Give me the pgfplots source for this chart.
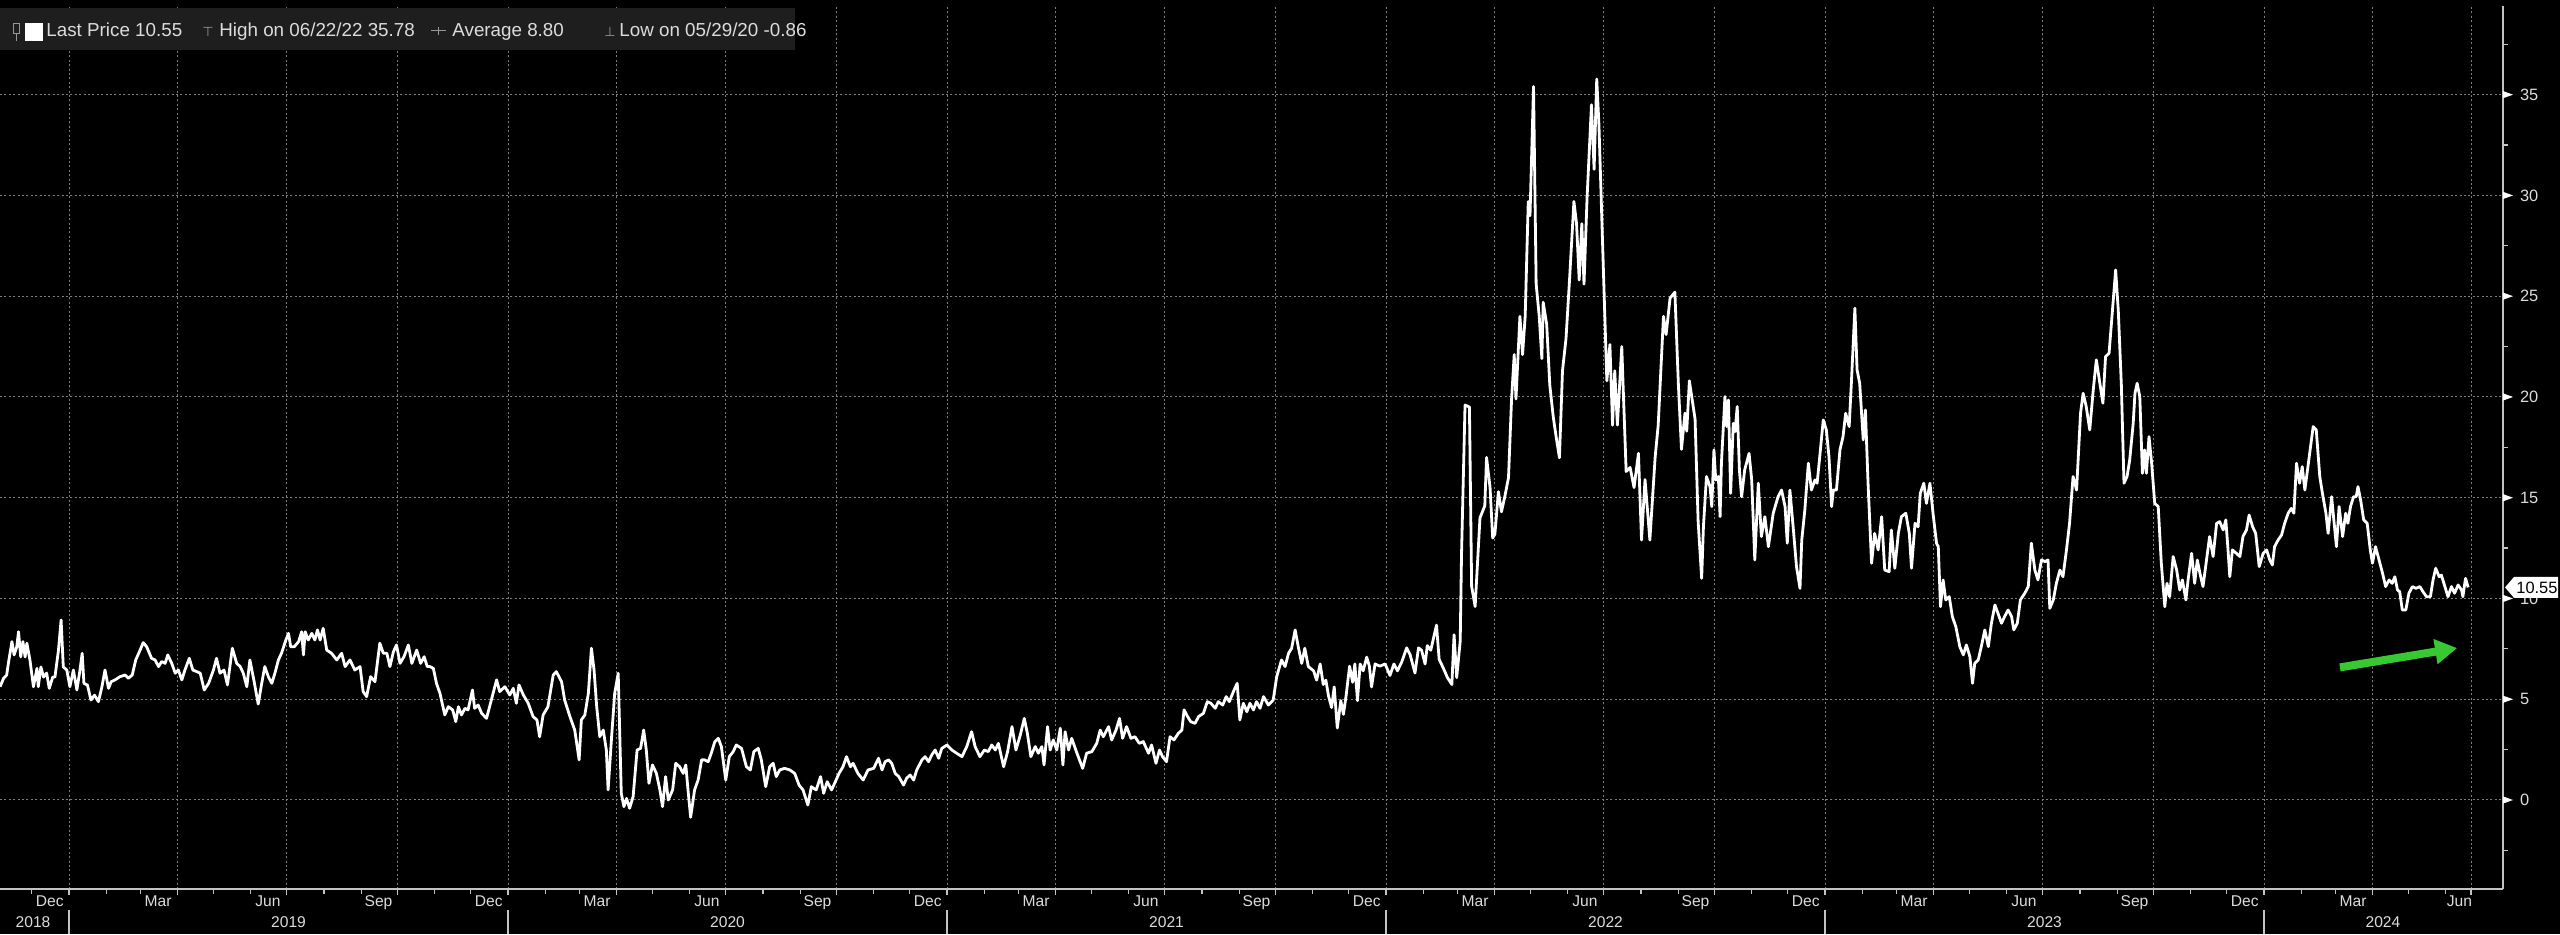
\documentclass[border=0pt]{standalone}
\usepackage{fontspec}
\setmainfont{Liberation Sans}
\newfontfamily\symfont{DejaVu Sans}
\usepackage{pgfplots}
\pgfplotsset{compat=1.18}
\usetikzlibrary{arrows.meta}
\definecolor{gridgrey}{RGB}{125,125,125}
\definecolor{axgrey}{RGB}{195,195,195}
\definecolor{lblgrey}{RGB}{220,220,220}
\definecolor{leggrey}{RGB}{30,30,30}
\definecolor{icongrey}{RGB}{150,150,150}
\definecolor{arrowgreen}{RGB}{55,200,50}
\pgfdeclareplotmark{rtri}{%
  \pgfpathmoveto{\pgfpoint{0pt}{1.8pt}}%
  \pgfpathlineto{\pgfpoint{5pt}{0pt}}%
  \pgfpathlineto{\pgfpoint{0pt}{-1.8pt}}%
  \pgfpathclose\pgfusepathqfill}
\begin{document}
\begin{tikzpicture}
\fill[black] (0pt,0pt) rectangle (1280pt,467pt);
\begin{axis}[
  at={(0pt,22.5pt)}, anchor=south west,
  scale only axis, width=1251.5pt, height=441.5pt,
  xmin=2018.8428, xmax=2024.5444, ymin=-4.417, ymax=39.40,
  axis x line*=bottom, axis y line*=right,
  axis line style={axgrey, line width=0.8pt},
  clip=false,
  tick align=outside,
  major tick length=3pt, minor tick length=2.5pt,
  tick style={axgrey, line width=0.6pt},
  /pgf/number format/assume math mode=true,
  ytick={0,5,...,35},
  minor ytick={-2.5,2.5,...,37.5},
  yticklabel style={font=\fontsize{8.2}{9}\selectfont, text=lblgrey, xshift=2pt},
  xtick={2019,2019.247,2019.496,2019.748,2020,2020.247,2020.496,2020.748,2021,2021.247,2021.496,2021.748,2022,2022.247,2022.496,2022.748,2023,2023.247,2023.496,2023.748,2024,2024.247,2024.4715},
  xticklabels={},
  minor xtick={2018.915,2019.085,2019.162,2019.329,2019.414,2019.581,2019.666,2019.833,2019.915,2020.085,2020.162,2020.329,2020.414,2020.581,2020.666,2020.833,2020.915,2021.085,2021.162,2021.329,2021.414,2021.581,2021.666,2021.833,2021.915,2022.085,2022.162,2022.329,2022.414,2022.581,2022.666,2022.833,2022.915,2023.085,2023.162,2023.329,2023.414,2023.581,2023.666,2023.833,2023.915,2024.085,2024.162,2024.329,2024.414},
  extra x ticks={2018.956,2019.203,2019.453,2019.705,2019.956,2020.203,2020.453,2020.705,2020.956,2021.203,2021.453,2021.705,2021.956,2022.203,2022.453,2022.705,2022.956,2023.203,2023.453,2023.705,2023.956,2024.203,2024.445},
  extra x tick labels={Dec,Mar,Jun,Sep,Dec,Mar,Jun,Sep,Dec,Mar,Jun,Sep,Dec,Mar,Jun,Sep,Dec,Mar,Jun,Sep,Dec,Mar,Jun},
  extra x tick style={grid=none, major tick length=0pt},
  xticklabel style={font=\fontsize{7.8}{8}\selectfont, text=lblgrey},
  grid=major,
  major grid style={gridgrey, dash pattern=on 1pt off 1.2pt, line width=0.5pt},
]
\addplot[white, line width=1.4pt, mark=none, line join=round] coordinates {
(2018.843,5.62)(2018.851,6.04)(2018.858,6.20)(2018.862,6.80)(2018.870,7.86)(2018.875,7.20)(2018.881,7.60)(2018.885,8.35)(2018.890,7.10)(2018.895,7.86)(2018.900,7.10)(2018.904,7.78)(2018.911,6.95)(2018.919,5.62)(2018.927,6.53)(2018.930,5.62)(2018.936,6.60)(2018.942,6.10)(2018.949,6.30)(2018.955,5.54)(2018.963,6.10)(2018.968,6.10)(2018.976,7.44)(2018.982,8.93)(2018.987,6.60)(2018.995,6.45)
(2019.002,5.62)(2019.010,6.45)(2019.018,5.46)(2019.025,6.45)(2019.030,7.28)(2019.034,5.79)(2019.042,5.70)(2019.050,4.96)(2019.058,5.20)(2019.067,4.88)(2019.075,5.62)(2019.082,6.45)(2019.090,5.54)(2019.096,5.87)(2019.105,5.96)(2019.116,6.12)(2019.128,6.20)(2019.135,6.04)(2019.144,6.20)(2019.152,6.95)(2019.162,7.44)(2019.169,7.81)(2019.177,7.60)(2019.188,7.03)(2019.196,6.95)(2019.204,6.62)(2019.211,6.87)(2019.219,6.78)(2019.225,7.20)(2019.234,6.78)(2019.242,6.29)(2019.249,6.45)(2019.257,5.96)(2019.264,6.45)(2019.274,7.03)(2019.282,6.45)(2019.291,6.37)(2019.299,6.29)(2019.308,5.46)(2019.318,5.79)(2019.329,6.45)(2019.336,7.03)(2019.344,6.29)(2019.353,6.45)(2019.361,5.71)(2019.372,7.53)(2019.382,6.78)(2019.390,6.62)(2019.397,6.29)(2019.405,5.62)(2019.412,6.95)(2019.421,5.96)(2019.431,4.76)(2019.439,5.79)(2019.446,6.62)(2019.454,6.12)(2019.462,5.79)(2019.469,6.29)(2019.477,6.95)(2019.484,7.28)(2019.494,7.94)(2019.500,8.27)(2019.505,7.60)(2019.513,7.60)(2019.523,7.86)(2019.530,8.35)(2019.534,7.20)(2019.538,8.35)(2019.545,7.94)(2019.553,8.27)(2019.560,7.94)(2019.566,8.44)(2019.572,7.94)(2019.579,8.52)(2019.587,7.44)(2019.598,7.28)(2019.610,6.95)(2019.621,7.28)(2019.629,6.62)(2019.640,6.95)(2019.651,6.45)(2019.663,6.62)(2019.670,5.38)(2019.678,5.13)(2019.687,6.12)(2019.697,5.87)(2019.708,7.78)(2019.716,7.28)(2019.724,7.28)(2019.731,6.62)(2019.739,7.36)(2019.746,7.69)(2019.754,6.78)(2019.763,7.11)(2019.773,7.69)(2019.781,6.78)(2019.792,7.44)(2019.801,6.78)(2019.809,7.11)(2019.816,6.62)
(2019.822,6.62)(2019.830,6.53)(2019.837,5.79)(2019.845,5.29)(2019.856,4.22)(2019.864,4.63)(2019.874,4.47)(2019.881,3.89)(2019.887,4.63)(2019.894,4.22)(2019.902,4.55)(2019.909,4.47)(2019.919,5.46)(2019.924,4.55)(2019.932,4.71)(2019.940,4.30)(2019.951,4.05)(2019.962,4.96)(2019.974,5.96)(2019.981,5.38)(2019.993,5.62)
(2020.004,5.21)(2020.012,5.54)(2020.019,4.80)(2020.025,5.71)(2020.035,5.21)(2020.046,4.80)(2020.057,4.14)(2020.066,3.97)(2020.072,3.14)(2020.080,4.22)(2020.091,4.63)(2020.103,6.20)(2020.110,6.37)(2020.122,5.87)(2020.129,4.96)(2020.141,4.14)(2020.152,3.47)(2020.162,1.99)(2020.167,3.97)(2020.175,4.22)(2020.183,5.29)(2020.190,7.53)(2020.196,6.45)(2020.202,4.63)(2020.209,3.14)(2020.217,3.47)(2020.224,2.48)(2020.228,0.50)(2020.236,3.14)(2020.243,5.29)(2020.251,6.29)(2020.258,0.33)(2020.264,-0.33)(2020.270,0.08)(2020.277,-0.41)(2020.285,0.17)(2020.294,2.48)(2020.302,2.56)(2020.309,3.47)(2020.315,2.48)(2020.321,0.83)(2020.329,1.74)(2020.338,1.32)(2020.346,0.50)(2020.352,-0.33)(2020.359,1.16)(2020.365,0.00)(2020.375,0.50)(2020.382,1.82)(2020.391,1.65)(2020.399,1.32)(2020.405,1.74)(2020.410,0.50)(2020.416,-0.86)(2020.425,0.50)(2020.433,0.99)(2020.441,1.99)(2020.448,1.99)(2020.456,1.90)(2020.463,2.32)(2020.471,2.89)(2020.479,3.06)(2020.486,2.65)(2020.496,0.99)(2020.504,2.15)(2020.513,2.40)(2020.520,2.73)(2020.532,2.56)(2020.543,1.65)(2020.552,1.49)(2020.560,2.40)(2020.570,2.56)(2020.577,1.99)(2020.587,0.66)(2020.596,1.65)(2020.604,1.82)(2020.611,1.16)(2020.619,1.49)(2020.630,1.57)(2020.642,1.49)(2020.653,1.32)(2020.663,0.74)(2020.672,0.50)(2020.683,-0.25)(2020.691,0.66)(2020.702,0.50)(2020.712,1.16)(2020.719,0.33)(2020.727,0.91)(2020.737,0.50)(2020.744,0.83)(2020.754,1.32)(2020.763,1.65)(2020.771,2.15)(2020.780,1.65)(2020.786,1.82)(2020.797,1.32)(2020.809,0.99)(2020.820,1.49)
(2020.833,1.57)(2020.844,2.07)(2020.852,1.49)(2020.859,1.90)(2020.867,1.99)(2020.874,1.82)(2020.882,1.32)(2020.890,1.16)(2020.901,0.74)(2020.908,1.08)(2020.916,1.24)(2020.924,0.99)(2020.931,1.49)(2020.943,1.99)(2020.950,2.15)(2020.958,1.90)(2020.965,2.23)(2020.973,2.48)(2020.981,2.07)(2020.988,2.56)
(2021.000,2.73)(2021.011,2.48)(2021.022,2.32)(2021.034,2.15)(2021.045,2.65)(2021.056,3.39)(2021.064,2.65)(2021.075,2.15)(2021.085,2.48)(2021.094,2.40)(2021.102,2.73)(2021.110,2.48)(2021.117,2.81)(2021.129,1.65)(2021.138,2.40)(2021.148,3.64)(2021.157,2.48)(2021.167,3.23)(2021.176,4.05)(2021.183,3.31)(2021.191,2.15)(2021.201,2.65)(2021.208,2.32)(2021.216,2.65)(2021.221,1.74)(2021.229,3.64)(2021.235,2.48)(2021.242,2.98)(2021.250,2.48)(2021.258,3.56)(2021.264,1.74)(2021.269,3.39)(2021.277,2.48)(2021.284,3.06)(2021.296,2.32)(2021.309,1.57)(2021.318,2.32)(2021.330,2.40)(2021.341,2.81)(2021.349,3.47)(2021.356,3.14)(2021.368,3.64)(2021.375,2.98)(2021.385,3.47)(2021.393,4.05)(2021.400,3.06)(2021.409,3.64)(2021.419,3.06)(2021.428,3.14)(2021.438,2.81)(2021.447,2.90)(2021.459,2.32)(2021.466,2.73)(2021.476,1.82)(2021.484,2.48)(2021.491,2.15)(2021.500,1.90)(2021.508,3.14)(2021.517,2.98)(2021.527,3.31)(2021.535,3.47)(2021.540,4.47)(2021.548,4.14)(2021.555,3.89)(2021.565,3.80)(2021.573,4.14)(2021.584,4.30)(2021.593,4.88)(2021.601,4.80)(2021.611,4.55)(2021.618,4.88)(2021.628,4.71)(2021.636,5.13)(2021.643,4.88)(2021.654,5.46)(2021.661,5.79)(2021.667,3.97)(2021.675,4.80)(2021.683,4.38)(2021.690,4.80)(2021.698,4.47)(2021.705,4.88)(2021.713,4.55)(2021.721,5.13)(2021.732,4.71)(2021.743,4.96)(2021.751,6.12)(2021.762,6.95)(2021.770,6.62)(2021.778,7.28)(2021.785,7.53)(2021.793,8.44)(2021.800,7.61)(2021.808,6.78)(2021.815,7.53)(2021.823,6.62)
(2021.835,6.41)(2021.842,5.95)(2021.850,6.75)(2021.857,5.73)(2021.863,5.95)(2021.869,5.16)(2021.876,4.59)(2021.882,5.61)(2021.889,3.57)(2021.897,4.93)(2021.903,4.25)(2021.909,5.16)(2021.917,6.64)(2021.924,5.84)(2021.929,6.75)(2021.935,4.93)(2021.941,6.75)(2021.948,6.41)(2021.956,7.09)(2021.962,6.64)(2021.967,5.61)(2021.975,6.75)(2021.986,6.64)(2021.998,6.75)
(2022.009,6.18)(2022.018,6.75)(2022.026,6.41)(2022.036,6.86)(2022.047,7.55)(2022.055,7.20)(2022.066,6.30)(2022.074,7.55)(2022.081,7.43)(2022.089,6.75)(2022.094,7.66)(2022.102,7.43)(2022.109,8.11)(2022.115,8.68)(2022.121,6.98)(2022.131,6.52)(2022.140,6.07)(2022.150,5.73)(2022.155,8.20)(2022.161,6.07)(2022.169,7.89)(2022.172,12.20)(2022.180,19.60)(2022.190,19.50)(2022.195,10.60)(2022.203,9.60)(2022.214,14.00)(2022.225,14.60)(2022.229,17.00)(2022.237,15.50)(2022.243,13.00)(2022.248,13.20)(2022.256,15.30)(2022.263,14.30)(2022.271,15.10)(2022.279,16.00)(2022.286,19.90)(2022.292,22.10)(2022.296,19.90)(2022.305,24.00)(2022.311,22.10)(2022.317,24.00)(2022.324,29.70)(2022.328,29.00)(2022.336,35.40)(2022.342,25.60)(2022.349,24.00)(2022.355,21.90)(2022.358,24.70)(2022.366,23.60)(2022.373,20.60)(2022.381,19.00)(2022.387,18.10)(2022.395,16.98)(2022.402,21.30)(2022.410,22.90)(2022.418,25.80)(2022.428,29.70)(2022.434,28.60)(2022.440,25.80)(2022.446,28.60)(2022.451,25.60)(2022.458,29.90)(2022.468,34.50)(2022.474,31.30)(2022.480,35.78)(2022.485,33.50)(2022.499,23.60)(2022.503,20.80)(2022.510,22.60)(2022.516,18.60)(2022.521,21.30)(2022.527,18.60)(2022.537,22.50)(2022.540,20.60)(2022.547,16.30)(2022.556,16.50)(2022.565,15.50)(2022.575,17.20)(2022.582,12.90)(2022.590,15.90)(2022.601,12.90)(2022.613,17.00)(2022.620,18.60)(2022.624,20.40)(2022.632,24.00)(2022.638,23.10)(2022.647,24.90)(2022.658,25.20)(2022.666,20.60)(2022.673,17.40)(2022.681,19.20)(2022.685,18.30)(2022.691,20.80)(2022.704,18.90)(2022.711,13.80)(2022.719,11.00)
(2022.723,13.56)(2022.730,16.05)(2022.738,15.55)(2022.742,14.56)(2022.747,17.37)(2022.751,15.88)(2022.757,16.05)(2022.761,14.06)(2022.764,16.71)(2022.772,20.02)(2022.776,18.53)(2022.780,19.85)(2022.785,15.22)(2022.791,18.69)(2022.795,18.28)(2022.800,19.52)(2022.805,16.38)(2022.810,15.05)(2022.817,16.38)(2022.827,17.20)(2022.833,15.88)(2022.840,11.91)(2022.848,15.72)(2022.855,13.07)(2022.863,14.06)(2022.871,12.57)(2022.882,14.23)(2022.893,15.05)(2022.901,15.38)(2022.909,14.56)(2022.914,12.74)(2022.920,15.38)(2022.928,13.40)(2022.935,11.58)(2022.943,10.50)(2022.947,12.90)(2022.954,14.39)(2022.962,16.71)(2022.969,15.38)(2022.977,15.88)(2022.982,15.72)(2022.988,17.04)(2022.996,18.86)
(2023.003,18.36)(2023.009,17.04)(2023.015,14.56)(2023.019,15.38)(2023.026,15.38)(2023.034,17.37)(2023.041,18.03)(2023.047,19.19)(2023.055,18.53)(2023.060,20.68)(2023.068,24.40)(2023.073,21.34)(2023.079,20.68)(2023.087,17.87)(2023.092,19.35)(2023.098,15.72)(2023.106,11.75)(2023.113,13.23)(2023.121,12.41)(2023.129,14.06)(2023.136,11.41)(2023.146,11.33)(2023.151,13.40)(2023.159,11.50)(2023.167,13.23)(2023.174,14.06)(2023.184,14.23)(2023.192,13.23)(2023.197,11.50)(2023.205,13.73)(2023.212,13.56)(2023.217,15.22)(2023.225,15.72)(2023.231,14.72)(2023.239,15.72)(2023.246,14.23)(2023.254,12.74)(2023.258,12.57)(2023.263,9.59)(2023.269,10.92)(2023.275,9.93)(2023.283,10.09)(2023.290,9.10)(2023.298,8.60)(2023.307,7.61)(2023.315,7.20)(2023.322,7.69)(2023.330,7.11)(2023.336,5.79)(2023.341,6.78)(2023.349,6.95)(2023.356,7.61)(2023.364,8.44)(2023.372,7.61)(2023.379,8.77)(2023.387,9.68)(2023.394,9.26)(2023.402,8.77)(2023.409,9.10)(2023.417,9.43)(2023.425,9.10)(2023.430,8.44)(2023.438,8.77)(2023.445,9.93)(2023.455,10.26)(2023.463,10.59)(2023.470,12.74)(2023.478,11.41)(2023.485,10.92)(2023.493,11.91)(2023.501,11.83)(2023.508,11.91)(2023.512,9.51)(2023.520,9.93)(2023.527,10.75)(2023.535,11.41)(2023.542,11.08)(2023.550,12.41)(2023.557,13.73)(2023.565,16.05)(2023.573,15.38)(2023.582,19.19)(2023.588,20.18)(2023.595,19.52)(2023.603,18.36)(2023.611,20.35)(2023.618,21.84)(2023.626,20.68)(2023.633,19.69)(2023.639,22.00)(2023.647,22.17)(2023.656,24.65)(2023.662,26.30)
(2023.668,24.30)(2023.675,20.60)(2023.681,15.72)(2023.688,16.05)(2023.694,16.87)(2023.702,18.69)(2023.706,20.18)(2023.711,20.68)(2023.717,20.02)(2023.723,16.21)(2023.728,17.37)(2023.732,16.21)(2023.738,18.03)(2023.744,16.71)(2023.751,14.72)(2023.759,14.56)(2023.766,11.75)(2023.774,9.59)(2023.779,10.75)(2023.785,10.09)(2023.793,12.08)(2023.801,11.41)(2023.808,10.42)(2023.814,10.92)(2023.822,9.93)(2023.827,10.92)(2023.835,12.24)(2023.842,10.75)(2023.848,11.91)(2023.854,11.25)(2023.861,10.59)(2023.869,11.91)(2023.876,13.07)(2023.884,12.08)(2023.892,13.73)(2023.899,13.81)(2023.907,13.40)(2023.913,13.90)(2023.918,12.41)(2023.922,11.08)(2023.928,12.41)(2023.937,12.24)(2023.945,12.08)(2023.952,13.07)(2023.960,13.40)(2023.966,14.14)(2023.974,13.56)(2023.981,13.23)(2023.989,11.58)(2023.998,12.24)
(2024.006,12.41)(2024.013,11.91)(2024.019,11.66)(2024.024,12.57)(2024.032,12.90)(2024.040,13.15)(2024.047,13.73)(2024.055,14.23)(2024.062,14.47)(2024.068,14.23)(2024.074,16.71)(2024.081,15.72)(2024.087,16.54)(2024.093,15.38)(2024.100,16.54)(2024.106,17.54)(2024.112,18.53)(2024.119,18.36)(2024.127,16.05)(2024.133,15.22)(2024.141,14.23)(2024.146,13.23)(2024.154,15.05)(2024.159,13.90)(2024.165,12.57)(2024.171,14.56)(2024.179,13.07)(2024.186,14.23)(2024.191,13.73)(2024.197,14.56)(2024.204,15.05)(2024.210,15.05)(2024.214,15.55)(2024.220,14.89)(2024.227,13.90)(2024.235,13.73)(2024.242,12.41)(2024.247,11.75)(2024.254,12.57)(2024.262,11.91)(2024.270,11.25)(2024.277,10.59)(2024.285,10.92)(2024.292,10.75)(2024.298,11.08)(2024.304,10.42)(2024.309,10.34)(2024.315,9.43)(2024.323,9.43)(2024.330,10.26)(2024.338,10.59)(2024.346,10.50)(2024.355,10.59)(2024.362,10.34)(2024.370,10.09)(2024.379,10.09)(2024.385,10.92)(2024.391,11.50)(2024.399,11.08)(2024.404,11.16)(2024.412,10.59)(2024.419,10.09)(2024.427,10.59)(2024.434,10.26)(2024.442,10.67)(2024.450,10.42)(2024.453,10.09)(2024.459,11.00)(2024.465,10.55)
};
\addplot[only marks, mark=rtri, white] coordinates {(2024.5444,0)(2024.5444,5)(2024.5444,10)(2024.5444,15)(2024.5444,20)(2024.5444,25)(2024.5444,30)(2024.5444,35)};
% year separators and labels
\foreach \yr in {2019,2020,2021,2022,2023,2024}{
  \edef\tmp{\noexpand\draw[axgrey, line width=0.6pt] (axis cs:\yr,-4.417) ++(0pt,-10.5pt) -- ++(0pt,-12pt);}\tmp
}
\node[font=\fontsize{7.8}{8}\selectfont, text=lblgrey] at (axis cs:2018.918,-4.417) [yshift=-16.5pt] {2018};
\node[font=\fontsize{7.8}{8}\selectfont, text=lblgrey] at (axis cs:2019.5,-4.417) [yshift=-16.5pt] {2019};
\node[font=\fontsize{7.8}{8}\selectfont, text=lblgrey] at (axis cs:2020.5,-4.417) [yshift=-16.5pt] {2020};
\node[font=\fontsize{7.8}{8}\selectfont, text=lblgrey] at (axis cs:2021.5,-4.417) [yshift=-16.5pt] {2021};
\node[font=\fontsize{7.8}{8}\selectfont, text=lblgrey] at (axis cs:2022.5,-4.417) [yshift=-16.5pt] {2022};
\node[font=\fontsize{7.8}{8}\selectfont, text=lblgrey] at (axis cs:2023.5,-4.417) [yshift=-16.5pt] {2023};
\node[font=\fontsize{7.8}{8}\selectfont, text=lblgrey] at (axis cs:2024.271,-4.417) [yshift=-16.5pt] {2024};
% last price tag
\fill[white] (axis cs:2024.5444,10.55) ++(1pt,0pt) -- ++(4.5pt,5.25pt) -- ++(22pt,0pt) -- ++(0pt,-10.5pt) -- ++(-22pt,0pt) -- cycle;
\node[anchor=west, inner sep=0pt, xshift=6.5pt, font=\fontsize{8.2}{9}\selectfont, text=black] at (axis cs:2024.5444,10.55) {10.55};
% green arrow
\draw[arrowgreen, line width=4pt, -{Triangle[length=11pt,width=12pt]}] (axis cs:2024.173,6.58) -- (axis cs:2024.44,7.54);
\end{axis}
% legend
\fill[leggrey] (0pt,442pt) rectangle (397.5pt,463pt);
\draw[icongrey, line width=0.5pt] (6.5pt,450pt) rectangle (9.5pt,455pt);
\draw[icongrey, line width=0.5pt] (8pt,450pt) -- (8pt,446.5pt);
\fill[white] (12.5pt,446.5pt) rectangle (21.5pt,455.5pt);
\node[anchor=base west, inner sep=0pt, font=\fontsize{9.4}{10}\selectfont, text=lblgrey] at (23pt,448.5pt) {Last Price 10.55};
\node[anchor=base west, inner sep=0pt, font=\symfont\fontsize{6.5}{8}\selectfont, text=icongrey] at (101pt,448.5pt) {⊤};
\node[anchor=base west, inner sep=0pt, font=\fontsize{9.4}{10}\selectfont, text=lblgrey] at (109.5pt,448.5pt) {High on 06/22/22 35.78};
\draw[icongrey, line width=0.5pt] (215.5pt,451.5pt) -- (223pt,451.5pt);
\draw[icongrey, line width=0.5pt] (219.25pt,449.5pt) -- (219.25pt,453.5pt);
\node[anchor=base west, inner sep=0pt, font=\fontsize{9.4}{10}\selectfont, text=lblgrey] at (226pt,448.5pt) {Average 8.80};
\node[anchor=base west, inner sep=0pt, font=\symfont\fontsize{6.5}{8}\selectfont, text=icongrey] at (302pt,448.5pt) {⊥};
\node[anchor=base west, inner sep=0pt, font=\fontsize{9.4}{10}\selectfont, text=lblgrey] at (309.5pt,448.5pt) {Low on 05/29/20 -0.86};
\pgfresetboundingbox
\path[use as bounding box] (0pt,0pt) rectangle (1280pt,467pt);
\end{tikzpicture}
\end{document}
